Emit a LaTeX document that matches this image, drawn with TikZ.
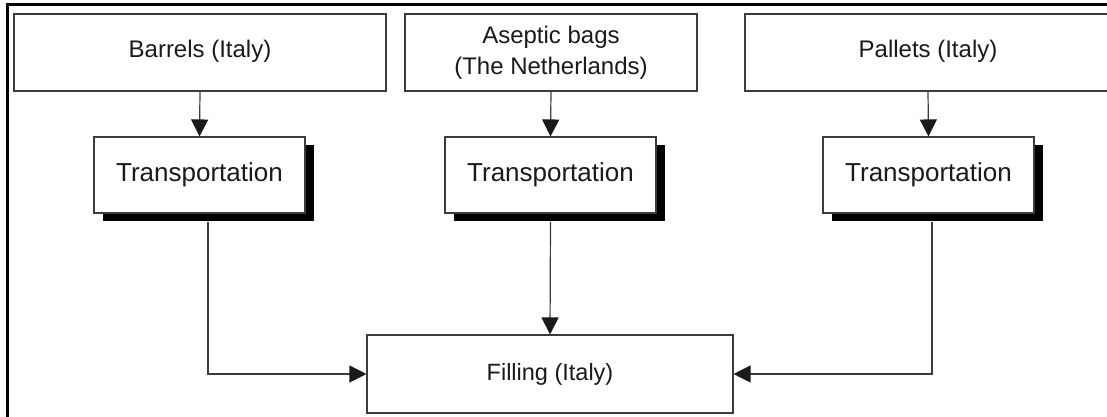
\documentclass[tikz,border=0pt]{standalone}
\usepackage{fontspec}
\setmainfont{Liberation Sans}
\usetikzlibrary{arrows.meta,shadows}
\definecolor{edge}{HTML}{3C3C3C}
\definecolor{ink}{HTML}{1A1A1A}
\begin{document}
\begin{tikzpicture}[x=1pt,y=-1pt,
  srcbox/.style={draw=edge,line width=1.1pt,fill=white,minimum width=#1,minimum height=77pt,
    inner sep=0pt,text=ink,font=\fontsize{24}{31}\selectfont,align=center},
  transbox/.style={draw=edge,line width=1.1pt,fill=white,minimum width=211pt,minimum height=76pt,
    inner sep=0pt,text=ink,font=\fontsize{26}{30}\selectfont,
    drop shadow={shadow xshift=9pt,shadow yshift=-8pt,fill=black,opacity=1}},
  fillbox/.style={draw=edge,line width=1.1pt,fill=white,minimum width=366pt,minimum height=78pt,
    inner sep=0pt,text=ink,font=\fontsize{23.5}{28}\selectfont},
  arr/.style={draw=edge,line width=1.2pt,-{Triangle[length=17pt,width=17pt,fill=ink,color=ink]}},
  frame/.style={line width=3pt,draw=black}]
\clip (0,0) rectangle (1107,417);
\fill[white] (0,0) rectangle (1107,417);

% sources
\node[srcbox=372pt] (barrels) at (200,52.5) {\raisebox{7pt}{Barrels (Italy)}};
\node[srcbox=292pt] (bags) at (551,52.5) {Aseptic bags\\(The Netherlands)};
\node[srcbox=366pt] (pallets) at (928,52.5) {\raisebox{7pt}{Pallets (Italy)}};

% transport steps
\node[transbox] (t1) at (199.5,175) {Transportation};
\node[transbox] (t2) at (550.5,175) {Transportation};
\node[transbox] (t3) at (928.5,175) {Transportation};

% destination
\node[fillbox] (fill) at (550,374) {Filling (Italy)};

% connectors
\draw[arr] (barrels.south) -- (t1.north);
\draw[arr] (bags.south) -- (t2.north);
\draw[arr] (pallets.south) -- (t3.north);
\draw[arr] ([shift={(8.5,8)}]t1.south) |- (fill.west);
\draw[arr] ([shift={(0,8)}]t2.south) -- (fill.north);
\draw[arr] ([shift={(3.5,8)}]t3.south) |- (fill.east);

% outer frame (left and top edges)
\coordinate (fbl) at (7,417);
\coordinate (ftl) at (7,4.8);
\coordinate (ftr) at (1107,4.8);
\draw[frame] (fbl) -- (ftl) -- (ftr);
\end{tikzpicture}
\end{document}
